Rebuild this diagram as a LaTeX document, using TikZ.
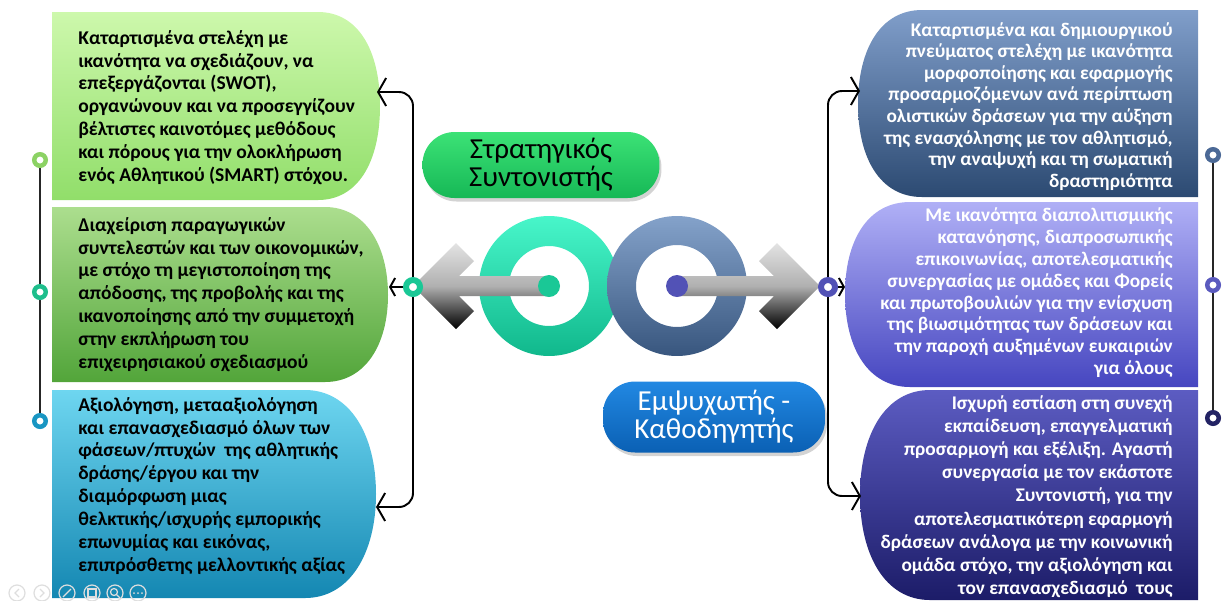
\documentclass[tikz,border=0pt]{standalone}
\usepackage{fontspec}
\setmainfont{Carlito}
\usetikzlibrary{positioning}
\usetikzlibrary{arrows.meta}
\usetikzlibrary{shadows}

\definecolor{lgA}{RGB}{205,248,172}
\definecolor{lgB}{RGB}{145,222,106}
\definecolor{mgA}{RGB}{172,222,142}
\definecolor{mgB}{RGB}{82,165,58}
\definecolor{cyA}{RGB}{110,214,240}
\definecolor{cyB}{RGB}{20,135,178}
\definecolor{sbA}{RGB}{128,158,202}
\definecolor{sbB}{RGB}{44,74,114}
\definecolor{lvA}{RGB}{176,176,246}
\definecolor{lvB}{RGB}{70,70,192}
\definecolor{nvA}{RGB}{92,92,194}
\definecolor{nvB}{RGB}{28,28,104}
\definecolor{tealA}{RGB}{72,246,202}
\definecolor{tealB}{RGB}{16,184,140}
\definecolor{slateA}{RGB}{132,162,202}
\definecolor{slateB}{RGB}{56,86,126}
\definecolor{tealdot}{RGB}{26,200,150}
\definecolor{purpdot}{RGB}{82,82,182}
\definecolor{grnA}{RGB}{60,226,118}
\definecolor{grnB}{RGB}{22,184,86}
\definecolor{bluA}{RGB}{34,136,226}
\definecolor{bluB}{RGB}{10,96,180}
\definecolor{lrA}{RGB}{140,210,100}
\definecolor{lrB}{RGB}{30,190,140}
\definecolor{lrC}{RGB}{25,150,195}
\definecolor{rrA}{RGB}{75,105,150}
\definecolor{rrB}{RGB}{90,90,190}
\definecolor{rrC}{RGB}{35,35,100}

\tikzset{
  lk/.style={line width=1.1pt,black},
  bigbarb/.tip={Straight Barb[length=0.16cm,width=0.56cm]},
  smallbarb/.tip={Straight Barb[length=0.1cm,width=0.36cm]},
  rail/.style={line width=1.1pt,black!85},
  sring/.style={circle,draw=#1,fill=white,line width=0.09cm,minimum size=0.23cm,inner sep=0pt},
  bring/.style={circle,draw=#1,fill=white,line width=0.12cm,minimum size=0.28cm,inner sep=0pt},
  ltxt/.style={anchor=north west,align=left,inner sep=0pt,text=black,
    font=\bfseries\fontsize{11.1}{13}\selectfont},
  rtxt/.style={anchor=north east,align=right,inner sep=0pt,text=white,
    font=\bfseries\fontsize{11}{13}\selectfont},
  title/.style={rectangle,rounded corners=0.64cm,align=center,inner sep=0pt,
    font=\fontsize{16.5}{16}\selectfont,
    drop shadow={shadow xshift=0.04cm,shadow yshift=-0.07cm,opacity=0.35}},
  ctl/.style={draw=black!13,line width=0.7pt}
}

\begin{document}
\begin{tikzpicture}[x=0.02cm,y=-0.02cm]
\useasboundingbox (0,0) rectangle (1227,600);

% left boxes
\shade[top color=lgA,bottom color=lgB] (52,12) -- (318,12) .. controls (358,12) and (380,50) .. (380,106)
  .. controls (380,162) and (358,200) .. (318,200) -- (52,200) -- cycle;
\shade[top color=mgA,bottom color=mgB] (52,207) -- (325,207) .. controls (365,207) and (388,245) .. (388,295)
  .. controls (388,345) and (365,382) .. (325,382) -- (52,382) -- cycle;
\shade[top color=cyA,bottom color=cyB] (52,390) -- (305,390) .. controls (350,390) and (376,435) .. (376,494)
  .. controls (376,553) and (350,598) .. (305,598) -- (52,598) -- cycle;

% right boxes
\shade[top color=sbA,bottom color=sbB] (1198,10) -- (922,10) .. controls (880,10) and (858,50) .. (858,104)
  .. controls (858,158) and (880,197) .. (922,197) -- (1198,197) -- cycle;
\shade[top color=lvA,bottom color=lvB] (1198,202) -- (910,202) .. controls (868,202) and (845,240) .. (845,294)
  .. controls (845,348) and (868,387) .. (910,387) -- (1198,387) -- cycle;
\shade[top color=nvA,bottom color=nvB] (1198,390) -- (930,390) .. controls (885,390) and (860,435) .. (860,495)
  .. controls (860,555) and (885,600) .. (930,600) -- (1198,600) -- cycle;

\node[ltxt] (l1) at (78,30) {Καταρτισμένα στελέχη με\\ικανότητα να σχεδιάζουν, να\\επεξεργάζονται (SWOT),\\οργανώνουν και να προσεγγίζουν\\βέλτιστες καινοτόμες μεθόδους\\και πόρους για την ολοκλήρωση\\ενός Αθλητικού (SMART) στόχου.};
\node[ltxt] (l2) at (78,217) {Διαχείριση παραγωγικών\\συντελεστών και των οικονομικών,\\με στόχο τη μεγιστοποίηση της\\απόδοσης, της προβολής και της\\ικανοποίησης από την συμμετοχή\\στην εκπλήρωση του\\επιχειρησιακού σχεδιασμού};
\node[ltxt] (l3) at (78,397) {Αξιολόγηση, μετααξιολόγηση\\και επανασχεδιασμό όλων των\\φάσεων/πτυχών\ \ της αθλητικής\\δράσης/έργου και την\\διαμόρφωση μιας\\θελκτικής/ισχυρής εμπορικής\\επωνυμίας και εικόνας,\\επιπρόσθετης μελλοντικής αξίας};

\node[rtxt,font=\bfseries\fontsize{11}{12.3}\selectfont] (r1) at (1173,22) {Καταρτισμένα και δημιουργικού\\πνεύματος στελέχη με ικανότητα\\μορφοποίησης και εφαρμογής\\προσαρμοζόμενων ανά περίπτωση\\ολιστικών δράσεων για την αύξηση\\της ενασχόλησης με τον αθλητισμό,\\την αναψυχή και τη σωματική\\δραστηριότητα};
\node[rtxt,font=\bfseries\fontsize{11}{12.5}\selectfont] (r2) at (1173,207) {Με ικανότητα διαπολιτισμικής\\κατανόησης, διαπροσωπικής\\επικοινωνίας, αποτελεσματικής\\συνεργασίας με ομάδες και Φορείς\\και πρωτοβουλιών για την ενίσχυση\\της βιωσιμότητας των δράσεων και\\την παροχή αυξημένων ευκαιριών\\για όλους};
\node[rtxt,font=\bfseries\fontsize{11}{13.2}\selectfont] (r3) at (1173,395) {Ισχυρή εστίαση στη συνεχή\\εκπαίδευση, επαγγελματική\\προσαρμογή και εξέλιξη. Αγαστή\\συνεργασία με τον εκάστοτε\\Συντονιστή, για την\\αποτελεσματικότερη εφαρμογή\\δράσεων ανάλογα με την κοινωνική\\ομάδα στόχο, την αξιολόγηση και\\τον επανασχεδιασμό\ \ τους};

% rails
\coordinate (lr1) at (40,160);
\coordinate (lr2) at (40,292);
\coordinate (lr3) at (40,421);
\coordinate (rr1) at (1213,155);
\coordinate (rr2) at (1213,285);
\coordinate (rr3) at (1213,418);
\draw[rail] (lr1) -- (lr3);
\draw[rail] (rr1) -- (rr3);
\node[sring=lrA] (lr1n) at (lr1) {};
\node[sring=lrB] (lr2n) at (lr2) {};
\node[sring=lrC] (lr3n) at (lr3) {};
\node[sring=rrA] (rr1n) at (rr1) {};
\node[sring=rrB] (rr2n) at (rr2) {};
\node[sring=rrC] (rr3n) at (rr3) {};

% rings in the middle
\coordinate (tealc) at (549,286);
\coordinate (slatec) at (677,286);
\shade[top color=tealA,bottom color=tealB,even odd rule] (tealc) circle (1.4cm) circle (0.8cm);
\shade[top color=slateA,bottom color=slateB,even odd rule] (slatec) circle (1.4cm) circle (0.82cm);

% grey arrows
\shade[top color=gray!22,bottom color=black,middle color=gray!62] (413,286) -- (456,243) -- (474,261) -- (459,276)
  -- (549,276) -- (549,296) -- (459,296) -- (474,311) -- (456,329) -- cycle;
\shade[top color=gray!22,bottom color=black,middle color=gray!62] (820,286) -- (777,243) -- (759,261) -- (774,276)
  -- (677,276) -- (677,296) -- (774,296) -- (759,311) -- (777,329) -- cycle;
\fill[tealdot] (tealc) circle (0.22cm);
\fill[purpdot] (slatec) circle (0.22cm);

% brackets
\coordinate (l1in) at (377,92);
\coordinate (l2in) at (389,287);
\coordinate (l3in) at (376,507);
\coordinate (lhub) at (413,287);
\coordinate (r1in) at (860,91);
\coordinate (r2in) at (845,287);
\coordinate (r3in) at (861,496);
\coordinate (rhub) at (828,287);
\draw[lk,bigbarb-bigbarb,rounded corners=0.28cm] (l1in) -| (lhub) |- (l3in);
\draw[lk,-smallbarb] (lhub) -- (l2in);
\draw[lk,bigbarb-bigbarb,rounded corners=0.28cm] (r1in) -| (rhub) |- (r3in);
\draw[lk,-smallbarb] (rhub) -- (r2in);
\node[bring=tealdot] (lhubn) at (lhub) {};
\node[bring=purpdot] (rhubn) at (rhub) {};

% titles
\node[title,top color=grnA,bottom color=grnB,text=black,minimum width=4.74cm,minimum height=1.32cm] (strat) at (541,165) {Στρατηγικός\\Συντονιστής};
\node[title,top color=bluA,bottom color=bluB,text=white,minimum width=4.44cm,minimum height=1.42cm] (emps) at (714,417) {Εμψυχωτής -\\Καθοδηγητής};

% slide controls
\foreach \x in {17,42,67,92,115,138}
  \draw[ctl] (\x,593) circle (0.16cm);
\draw[ctl] (19,589) -- (15,593) -- (19,597);
\draw[ctl] (40,589) -- (44,593) -- (40,597);
\draw[ctl] (63,597) -- (71,589);
\draw[ctl] (88,589) rectangle (96,597);
\draw[ctl] (114,592) circle (0.07cm) (117,595) -- (120,598);
\foreach \x in {134,138,142}
  \fill[black!15] (\x,593) circle (0.02cm);
\end{tikzpicture}
\end{document}
